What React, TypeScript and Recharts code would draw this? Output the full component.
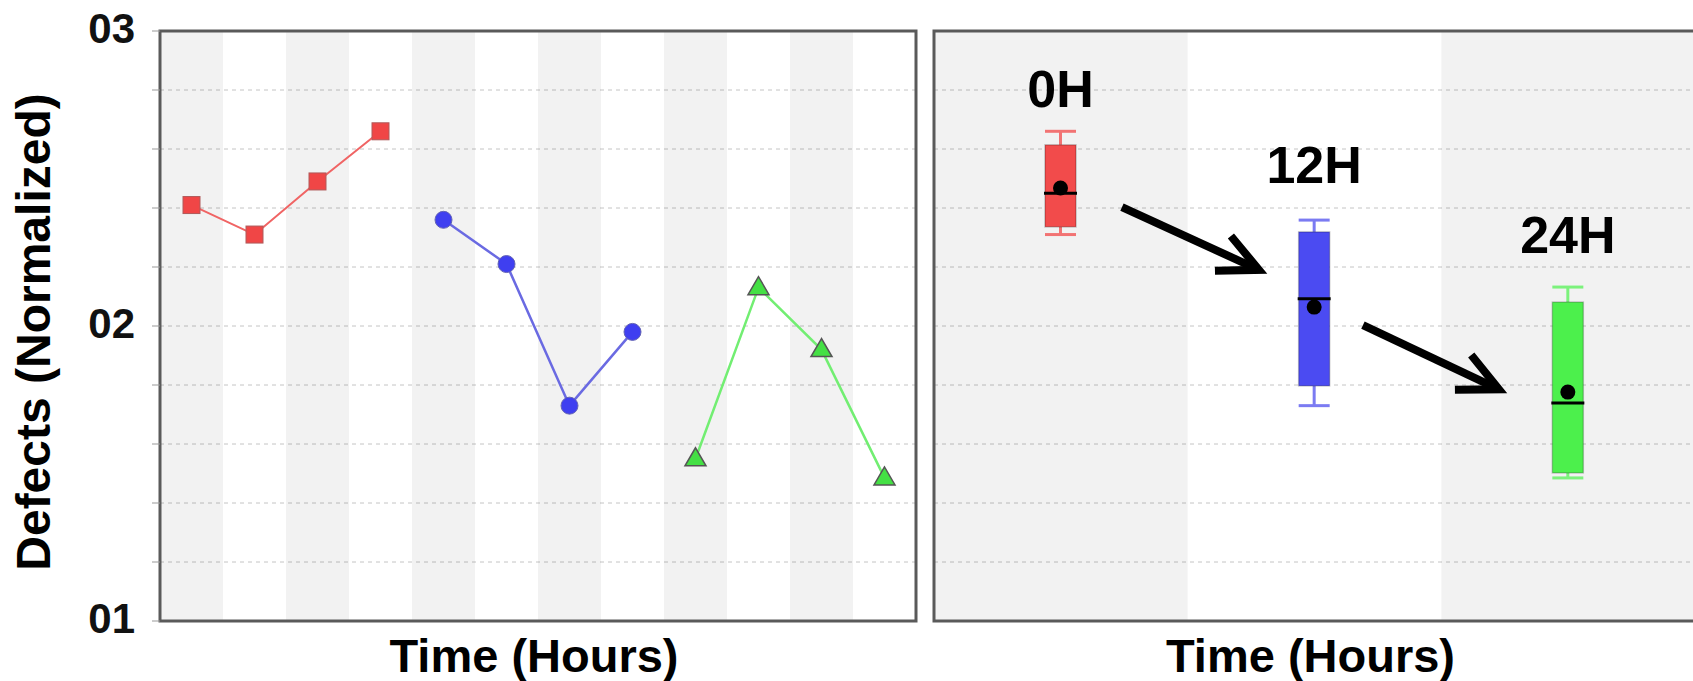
import React from 'react'
import { ComposedChart, Line, Bar, XAxis, YAxis, CartesianGrid, ReferenceArea, ReferenceLine } from 'recharts'

// left panel: individual replicates per time point
const samples = ['0H-1', '0H-2', '0H-3', '0H-4', '12H-1', '12H-2', '12H-3', '12H-4', '24H-1', '24H-2', '24H-3', '24H-4']
const defects0H = [0.241, 0.231, 0.249, 0.266]
const defects12H = [0.236, 0.221, 0.173, 0.198]
const defects24H = [0.155, 0.213, 0.192, 0.1485]

// right panel: box summary per time point
const timePoints = ['0H', '12H', '24H']
const boxMin = [0.231, 0.173, 0.1485]
const boxQ1 = [0.2336, 0.1797, 0.1502]
const boxMedian = [0.245, 0.2092, 0.1739]
const boxQ3 = [0.2614, 0.2319, 0.2081]
const boxMax = [0.266, 0.2359, 0.2132]
const boxMean = [0.2468, 0.2064, 0.1776]
const labelLevel = [0.2742, 0.2485, 0.2247]

// arrows between neighbouring boxes: the line runs from one time point to the next
// (y at each end), and the arrow covers the part between arrowStart and arrowEnd
const arrowFrom = ['0H', '12H']
const arrowTo = ['12H', '24H']
const arrowFromY = [0.2498, 0.208]
const arrowToY = [0.2104, 0.1675]
const arrowStart = [0.241, 0.191]
const arrowEnd = [0.781, 0.727]

const yTicks = [0.1, 0.12, 0.14, 0.16, 0.18, 0.2, 0.22, 0.24, 0.26, 0.28, 0.3]
const yTickLabels: Record<string, string> = { '0.10': '01', '0.20': '02', '0.30': '03' }

const FONT = '"Liberation Sans", Arial, Helvetica, sans-serif'
const boxFill = ['#f24b4b', '#4b4bf2', '#4cf04c']
const whiskerColor = ['#f27373', '#7b7bf2', '#7cf27c']
const bandShade = '#000000'

const lineData = samples.map((s, i) => ({
  sample: s,
  h0: i < 4 ? defects0H[i] : null,
  h12: i >= 4 && i < 8 ? defects12H[i - 4] : null,
  h24: i >= 8 ? defects24H[i - 8] : null,
}))

const boxData = timePoints.map((t, i) => ({
  time: t,
  range: [boxMin[i], boxMax[i]],
  min: boxMin[i],
  q1: boxQ1[i],
  median: boxMedian[i],
  q3: boxQ3[i],
  max: boxMax[i],
  mean: boxMean[i],
  labelAt: labelLevel[i],
}))

const SquareDot = (props: any) => {
  const { cx, cy, index } = props
  if (cx == null || cy == null || props.value == null) return <g key={index} />
  return <rect key={index} x={cx - 8.5} y={cy - 8.5} width={17} height={17} fill="#f04646" stroke="#b05a5a" strokeWidth={1} />
}

const CircleDot = (props: any) => {
  const { cx, cy, index } = props
  if (cx == null || cy == null || props.value == null) return <g key={index} />
  return <circle key={index} cx={cx} cy={cy} r={8.5} fill="#3f3ff0" stroke="#6464b4" strokeWidth={1} />
}

const TriangleDot = (props: any) => {
  const { cx, cy, index } = props
  if (cx == null || cy == null || props.value == null) return <g key={index} />
  const pts = `${cx},${cy - 11} ${cx - 10.5},${cy + 7} ${cx + 10.5},${cy + 7}`
  return <polygon key={index} points={pts} fill="#44e044" stroke="#555" strokeWidth={1.5} />
}

const BoxShape = (props: any) => {
  const { x, y, width, height, payload, index } = props
  if (x == null || y == null || !payload) return null
  const top = Math.min(y, y + height)
  const bottom = Math.max(y, y + height)
  const k = (bottom - top) / (payload.max - payload.min)
  const py = (v: number) => top + (payload.max - v) * k
  const cx = x + width / 2
  const wc = whiskerColor[index]
  return (
    <g>
      <line x1={cx} x2={cx} y1={py(payload.max)} y2={py(payload.q3)} stroke={wc} strokeWidth={3} />
      <line x1={cx} x2={cx} y1={py(payload.q1)} y2={py(payload.min)} stroke={wc} strokeWidth={3} />
      <line x1={x} x2={x + width} y1={py(payload.max)} y2={py(payload.max)} stroke={wc} strokeWidth={3} />
      <line x1={x} x2={x + width} y1={py(payload.min)} y2={py(payload.min)} stroke={wc} strokeWidth={3} />
      <rect x={x} y={py(payload.q3)} width={width} height={py(payload.q1) - py(payload.q3)} fill={boxFill[index]} stroke="rgba(0,0,0,0.22)" strokeWidth={1.5} />
      <line x1={x - 1} x2={x + width + 1} y1={py(payload.median)} y2={py(payload.median)} stroke="#000" strokeWidth={3} />
      <circle cx={cx} cy={py(payload.mean)} r={7.5} fill="#000" />
      <text x={cx} y={py(payload.labelAt)} textAnchor="middle" fontFamily={FONT} fontWeight="bold" fontSize={52} fill="#000">
        {payload.time}
      </text>
    </g>
  )
}

const makeArrow = (t0: number, t1: number) => (props: any) => {
  const { x1, y1, x2, y2 } = props
  if ([x1, y1, x2, y2].some((v) => v == null)) return null
  const sx = x1 + (x2 - x1) * t0
  const sy = y1 + (y2 - y1) * t0
  const ex = x1 + (x2 - x1) * t1
  const ey = y1 + (y2 - y1) * t1
  const ang = Math.atan2(ey - sy, ex - sx)
  const len = 44
  const spread = 0.45
  const ax = ex - len * Math.cos(ang - spread)
  const ay = ey - len * Math.sin(ang - spread)
  const bx = ex - len * Math.cos(ang + spread)
  const by = ey - len * Math.sin(ang + spread)
  return (
    <g>
      <line x1={sx} y1={sy} x2={ex} y2={ey} stroke="#000" strokeWidth={8} />
      <polyline points={`${ax},${ay} ${ex},${ey} ${bx},${by}`} fill="none" stroke="#000" strokeWidth={8} strokeLinejoin="miter" />
    </g>
  )
}

const XTitle = (props: any) => {
  const vb = props.viewBox
  return (
    <text x={vb.x + vb.width / 2 - 4} y={vb.y + 51} textAnchor="middle" fontFamily={FONT} fontWeight="bold" fontSize={47} fill="#000">
      Time (Hours)
    </text>
  )
}

const YTitle = (props: any) => {
  const vb = props.viewBox
  const x = vb.x + 50
  const y = vb.y + vb.height / 2 + 6
  return (
    <text x={x} y={y} transform={`rotate(-90, ${x}, ${y})`} textAnchor="middle" fontFamily={FONT} fontWeight="bold" fontSize={48} fill="#000">
      Defects (Normalized)
    </text>
  )
}

const tickFmt = (v: number) => yTickLabels[v.toFixed(2)] ?? ''

export default function App() {
  return (
    <div style={{ position: 'absolute', left: 0, top: 0, width: 1693, height: 681, overflow: 'hidden', background: '#fff' }}>
      <div style={{ position: 'absolute', left: 0, top: 0 }}>
        <ComposedChart width={920} height={681} data={lineData} margin={{ top: 31, right: 4, left: 0, bottom: 0 }}>
          {samples.map((s, i) =>
            i % 2 === 0 ? <ReferenceArea key={s} x1={s} x2={s} fill={bandShade} fillOpacity={0.05} stroke="none" ifOverflow="visible" /> : null
          )}
          <CartesianGrid vertical={false} stroke="#c4c4c4" strokeDasharray="4 4" />
          <XAxis
            dataKey="sample"
            scale="band"
            tick={false}
            tickLine={{ stroke: '#888' }}
            tickSize={6}
            axisLine={false}
            height={60}
            label={XTitle}
          />
          <YAxis
            type="number"
            domain={[0.1, 0.3]}
            ticks={yTicks}
            interval={0}
            width={160}
            axisLine={false}
            tickLine={{ stroke: '#999' }}
            tickSize={8}
            tickMargin={17}
            tickFormatter={tickFmt}
            tick={{ fontFamily: FONT, fontWeight: 'bold', fontSize: 42, fill: '#111', dy: -3 }}
            label={YTitle}
          />
          <ReferenceArea y1={0.1} y2={0.3} fill="none" stroke="#5a5a5a" strokeWidth={3} ifOverflow="visible" />
          <Line dataKey="h0" stroke="#f06464" strokeWidth={2} dot={SquareDot} activeDot={false} isAnimationActive={false} />
          <Line dataKey="h12" stroke="#6a6ae2" strokeWidth={2.5} dot={CircleDot} activeDot={false} isAnimationActive={false} />
          <Line dataKey="h24" stroke="#72ee72" strokeWidth={2.5} dot={TriangleDot} activeDot={false} isAnimationActive={false} />
        </ComposedChart>
      </div>
      <div style={{ position: 'absolute', left: 914, top: 0 }}>
        <ComposedChart width={785} height={681} data={boxData} margin={{ top: 31, right: 4, left: 20, bottom: 0 }}>
          {timePoints.map((t, i) =>
            i % 2 === 0 ? <ReferenceArea key={t} x1={t} x2={t} fill={bandShade} fillOpacity={0.05} stroke="none" ifOverflow="visible" /> : null
          )}
          <CartesianGrid vertical={false} stroke="#c4c4c4" strokeDasharray="4 4" />
          <XAxis
            dataKey="time"
            scale="band"
            tick={false}
            tickLine={{ stroke: '#888' }}
            tickSize={6}
            axisLine={false}
            height={60}
            label={XTitle}
          />
          <YAxis type="number" domain={[0.1, 0.3]} ticks={yTicks} interval={0} hide />
          <ReferenceArea y1={0.1} y2={0.3} fill="none" stroke="#5a5a5a" strokeWidth={3} ifOverflow="visible" />
          <Bar dataKey="range" barSize={31} shape={BoxShape} isAnimationActive={false} />
          {arrowFrom.map((from, i) => (
            <ReferenceLine
              key={from}
              segment={[
                { x: from, y: arrowFromY[i] },
                { x: arrowTo[i], y: arrowToY[i] },
              ]}
              stroke="none"
              shape={makeArrow(arrowStart[i], arrowEnd[i])}
              ifOverflow="visible"
            />
          ))}
        </ComposedChart>
      </div>
    </div>
  )
}
